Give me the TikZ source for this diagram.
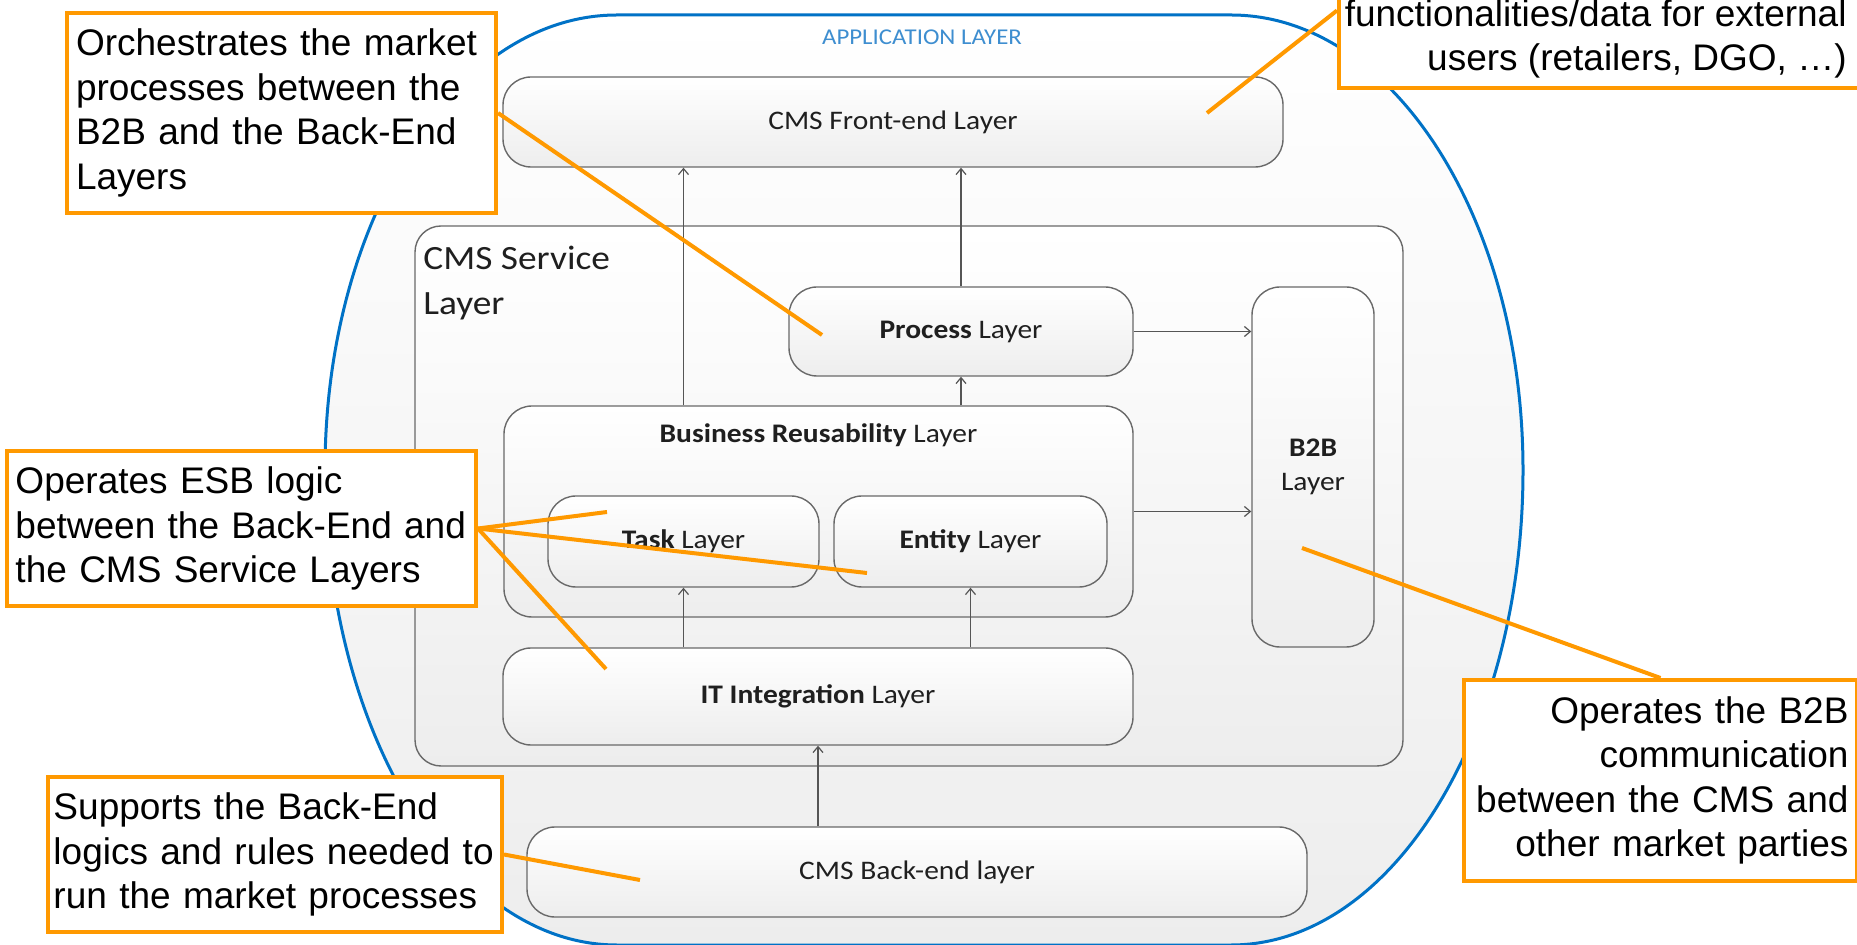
\documentclass[tikz,border=0pt]{standalone}
\usepackage{fontspec}
\setmainfont{Liberation Sans}
\newfontfamily\calibri[FakeStretch=1.1]{Carlito}
\usepackage{tikz}
\usetikzlibrary{arrows.meta}

\definecolor{appblue}{RGB}{0,114,198}
\definecolor{appbluetext}{RGB}{62,142,208}
\definecolor{noteorange}{RGB}{255,153,0}
\definecolor{boxgray}{RGB}{105,105,105}
\definecolor{arrowgray}{RGB}{85,85,85}

\begin{document}
\begin{tikzpicture}[x=0.5pt,y=-0.5pt]
        \tikzstyle{layer}=[rectangle, rounded corners=14pt, draw=boxgray, line width=0.7pt, top color=white, bottom color=black!7, inner sep=0pt, text=black!88, font=\calibri\fontsize{13.4}{17}\selectfont]
        \tikzstyle{note}=[rectangle, draw=noteorange, line width=2pt, fill=white, inner sep=0pt, font=\fontsize{18.5}{22.25}\selectfont]
        \tikzstyle{pointer}=[draw=noteorange, line width=2pt]
        \tikzstyle{flow}=[draw=arrowgray, line width=0.6pt, -{Straight Barb[length=3pt,width=5pt]}]

        \useasboundingbox (0,0) rectangle (1857,945);

        % application layer
        \shade[top color=white, bottom color=black!7, draw=appblue, line width=1.5pt]
            (617,15) -- (1231,15) arc[start angle=-90, end angle=0, x radius=292, y radius=455]
            arc[start angle=0, end angle=90, x radius=292, y radius=475] -- (617,945)
            arc[start angle=90, end angle=180, x radius=292, y radius=475]
            arc[start angle=180, end angle=270, x radius=292, y radius=455] -- cycle;
        \node[text=appbluetext, font=\calibri\fontsize{11.3}{13}\selectfont] (apptitle) at (922,37) {APPLICATION LAYER};

        % layers
        \node[layer, minimum width=390pt, minimum height=45pt] (frontend) at (893,122) {CMS Front-end Layer};
        \node[layer, rounded corners=13pt, minimum width=494pt, minimum height=270pt] (service) at (909,496) {};
        \node[anchor=north west, inner sep=0pt, align=left, text=black!88, font=\calibri\fontsize{17}{22.5}\selectfont] (servicetitle) at (423,246) {CMS Service\\Layer};
        \node[layer, minimum width=172pt, minimum height=44.5pt] (process) at (961,331.5) {\textbf{Process} Layer};
        \node[layer, minimum width=61pt, minimum height=180pt, align=center] (btob) at (1313,467) {\textbf{B2B}\\Layer};
        \node[layer, minimum width=314.5pt, minimum height=105.5pt] (reuse) at (818.5,511.5) {};
        \node[text=black!88, font=\calibri\fontsize{13.4}{17}\selectfont] (reusetitle) at ([yshift=-15pt]reuse.north) {\textbf{Business Reusability} Layer};
        \node[layer, minimum width=135.5pt, minimum height=45.5pt] (task) at (683.5,541.5) {\textbf{Task} Layer};
        \node[layer, minimum width=136.5pt, minimum height=45.5pt] (entity) at (970.5,541.5) {\textbf{Entity} Layer};
        \node[layer, minimum width=315pt, minimum height=48.5pt] (itint) at (818,696.5) {\textbf{IT Integration} Layer};
        \node[layer, minimum width=390pt, minimum height=45pt] (backend) at (917,872) {CMS Back-end layer};

        % arrows between layers
        \draw[flow] (reuse.north -| task) -- (frontend.south -| task);
        \draw[flow] (process.north) -- (process.north |- frontend.south);
        \draw[flow] (reuse.north -| process) -- (process.south);
        \draw[flow] (process.east) -- (process.east -| btob.west);
        \draw[flow] (reuse.east) -- (reuse.east -| btob.west);
        \draw[flow] (itint.north -| task) -- (task.south);
        \draw[flow] (itint.north -| entity) -- (entity.south);
        \draw[flow] (backend.north -| itint) -- (itint.south);

        % callouts
        \node[note, minimum width=214.5pt, minimum height=100pt, text width=205.5pt, align=left] (orch) at (281.5,113) {Orchestrates the market\\processes between the\\B2B and the Back-End\\Layers};
        \node[note, minimum width=234.5pt, minimum height=77.5pt, text width=226pt, align=left] (esb) at (241.5,528.5) {Operates ESB logic\\between the Back-End and\\the CMS Service Layers};
        \node[note, minimum width=227pt, minimum height=77.5pt, text width=221.5pt, align=left] (supports) at (275,854.5) {Supports the Back-End\\logics and rules needed to\\run the market processes};
        \node[note, minimum width=196.5pt, minimum height=100.5pt, text width=188pt, align=right] (btobnote) at (1660.5,780.5) {Operates the B2B\\communication\\between the CMS and\\other market parties};
        \node[note, minimum width=268pt, minimum height=77.5pt] (frontnote) at (1607,10.5) {};
        \node[anchor=south east, inner sep=0pt, align=right, font=\fontsize{18.5}{22.25}\selectfont] (frontnotetext) at (1847,79) {functionalities/data for external\\users (retailers, DGO, \dots)};

        % pointers
        \coordinate (orchtip) at (822,335);
        \coordinate (esbtipa) at (607,512);
        \coordinate (esbtipb) at (867,573);
        \coordinate (esbtipc) at (606,669);
        \coordinate (supportstip) at (640,880);
        \coordinate (btobtip) at (1302,548);
        \coordinate (fronttip) at (1207,113);
        \draw[pointer] (orch.east) -- (orchtip);
        \foreach \t in {esbtipa,esbtipb,esbtipc}
            \draw[pointer] (esb.east) -- (\t);
        \draw[pointer] (supports.east) -- (supportstip);
        \draw[pointer] (btobnote.north) -- (btobtip);
        \draw[pointer] (frontnote.west) -- (fronttip);
\end{tikzpicture}
\end{document}
